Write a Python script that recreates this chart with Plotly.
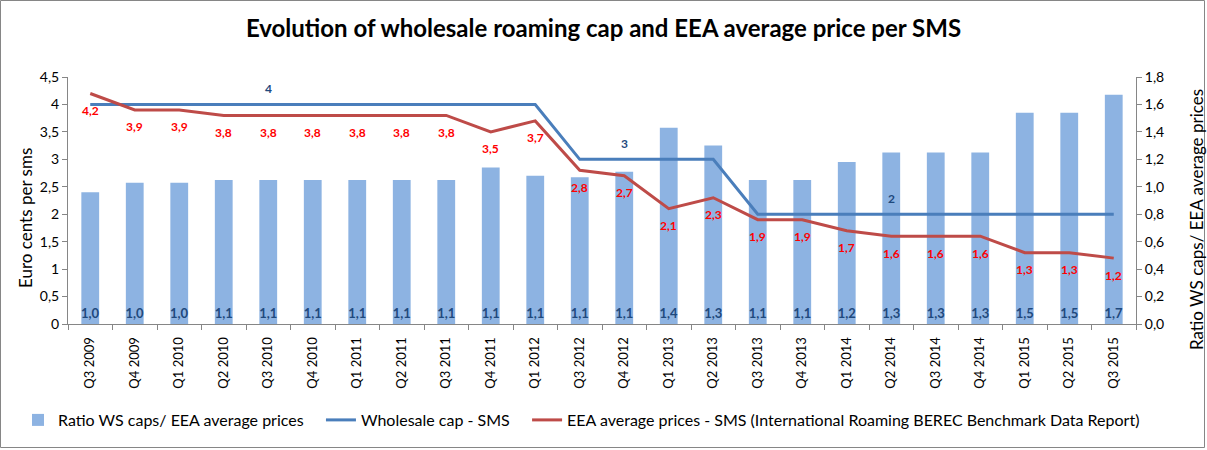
import plotly.graph_objects as go

categories = ["Q3 2009", "Q4 2009", "Q1 2010", "Q2 2010", "Q3 2010", "Q4 2010",
              "Q1 2011", "Q2 2011", "Q3 2011", "Q4 2011", "Q1 2012", "Q3 2012",
              "Q4 2012", "Q1 2013", "Q2 2013", "Q3 2013", "Q4 2013", "Q1 2014",
              "Q2 2014", "Q3 2014", "Q4 2014", "Q1 2015", "Q2 2015", "Q3 2015"]

ratio = [0.96, 1.03, 1.03, 1.05, 1.05, 1.05, 1.05, 1.05, 1.05, 1.14, 1.08, 1.07,
         1.11, 1.43, 1.30, 1.05, 1.05, 1.18, 1.25, 1.25, 1.25, 1.54, 1.54, 1.67]

wholesale_cap = [4, 4, 4, 4, 4, 4, 4, 4, 4, 4, 4, 3, 3, 3, 3, 2, 2, 2, 2, 2, 2, 2, 2, 2]

eea_price = [4.2, 3.9, 3.9, 3.8, 3.8, 3.8, 3.8, 3.8, 3.8, 3.5, 3.7, 2.8,
             2.7, 2.1, 2.3, 1.9, 1.9, 1.7, 1.6, 1.6, 1.6, 1.3, 1.3, 1.2]

# indices of the cap values that carry a data label
cap_label_idx = [4, 12, 18]

FONT = "Lato"
PAD = "\u00a0" * 3

fig = go.Figure()

fig.add_trace(go.Bar(
    x=categories, y=ratio, name="Ratio WS caps/ EEA average prices" + PAD,
    marker=dict(color="#8DB3E2", line=dict(width=0)),
    width=0.4, yaxis="y",
    texttemplate="%{y:.1f}", textposition="inside", insidetextanchor="start",
    textangle=0, constraintext="none",
    textfont=dict(color="#1F497D", size=13, family=FONT, weight="bold"),
))

fig.add_trace(go.Scatter(
    x=categories, y=wholesale_cap, name="Wholesale cap - SMS" + PAD, yaxis="y2",
    mode="lines", line=dict(color="#4A7EBB", width=3),
))

fig.add_trace(go.Scatter(
    x=categories, y=eea_price,
    name="EEA average prices - SMS (International Roaming BEREC Benchmark Data Report)",
    yaxis="y2", mode="lines", line=dict(color="#BE4B48", width=3),
))

L, R, T, B = 68, 71, 77, 126
W, H = 1207, 450
pw, ph = W - L - R, H - T - B

annotations = []
for c, v in zip(categories, eea_price):
    annotations.append(dict(x=c, y=v, xref="x", yref="y2", yshift=-17, showarrow=False,
                            text=f"{v:.1f}".replace(".", ","),
                            font=dict(color="#FF0000", size=12, family=FONT, weight="bold")))
for i in cap_label_idx:
    annotations.append(dict(x=categories[i], y=wholesale_cap[i], xref="x", yref="y2",
                            yshift=16, showarrow=False, text=str(wholesale_cap[i]),
                            font=dict(color="#1F497D", size=12, family=FONT, weight="bold")))
# axis titles
annotations.append(dict(text="Euro cents per sms", textangle=-90, showarrow=False,
                        xref="paper", yref="paper", x=(25 - L) / pw, y=(H - B - 218) / ph,
                        xanchor="center", yanchor="middle", font=dict(size=17)))
annotations.append(dict(text="Ratio WS caps/ EEA average prices", textangle=-90,
                        showarrow=False, xref="paper", yref="paper",
                        x=(1196 - L) / pw, y=(H - B - 220) / ph,
                        xanchor="center", yanchor="middle", font=dict(size=17)))

fig.update_layout(
    width=W, height=H,
    margin=dict(l=L, r=R, t=T, b=B),
    paper_bgcolor="white", plot_bgcolor="white",
    separators=",.",
    font=dict(family=FONT, color="#000000", size=14),
    title=dict(text="<b>Evolution of wholesale roaming cap and EEA average price per SMS</b>",
               x=0.5, xanchor="center", y=1 - 29 / H, yanchor="middle", yref="container",
               font=dict(size=24, family=FONT, color="#000000")),
    xaxis=dict(type="category", tickangle=-90, ticks="outside", tickson="boundaries",
               ticklen=5, tickcolor="#868686", showline=True, linecolor="#868686",
               ticklabelstandoff=7,
               tickfont=dict(size=13, color="#000000"), showgrid=False, automargin=False),
    yaxis=dict(side="right", range=[0, 1.8], dtick=0.2, tickformat=".1f",
               showline=True, linecolor="#868686", ticks="outside", ticklen=5,
               tickcolor="#868686", showgrid=False, zeroline=False, automargin=False,
               tickfont=dict(size=14)),
    yaxis2=dict(side="left", overlaying="y", range=[0, 4.5], dtick=0.5,
                showline=True, linecolor="#868686", ticks="outside", ticklen=5,
                tickcolor="#868686", showgrid=False, zeroline=False, automargin=False,
                tickfont=dict(size=14)),
    legend=dict(orientation="h", xref="paper", x=(18 - L) / pw, xanchor="left",
                yref="paper", y=(H - B - 420) / ph, yanchor="middle",
                font=dict(size=16), traceorder="normal", bgcolor="rgba(0,0,0,0)"),
    showlegend=True,
    annotations=annotations,
    shapes=[dict(type="rect", xref="paper", yref="paper",
                 x0=-(L - 0.5) / pw, x1=1 + (R - 2.5) / pw,
                 y0=-(B - 2.5) / ph, y1=1 + (T - 0.5) / ph,
                 line=dict(color="#868686", width=1))],
)

fig.write_html("out.html", config={"displayModeBar": False},
               post_script="document.body.style.margin='0';")
